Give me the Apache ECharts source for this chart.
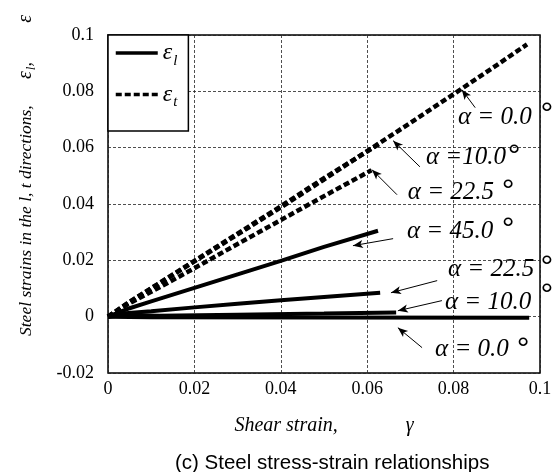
<!DOCTYPE html>
<html>
<head>
<meta charset="utf-8">
<script src="https://cdn.jsdelivr.net/npm/echarts@6/dist/echarts.min.js"></script>
<style>
  html, body { margin: 0; padding: 0; background: #fff; }
  #chart { width: 557px; height: 472px; }
</style>
</head>
<body>
<div id="chart"></div>
<script>
// Strain curves: [shear strain γ, steel strain]
const epsT_a00 = [[0,0],[0.005,0.0052],[0.01,0.0100],[0.02,0.0196],[0.03,0.0292],[0.04,0.0388],[0.05,0.0487],[0.06,0.0588],[0.07,0.0688],[0.08,0.0790],[0.09,0.0893],[0.097,0.0967]];
const epsT_a10 = [[0,0],[0.005,0.0053],[0.01,0.0101],[0.02,0.0198],[0.03,0.0295],[0.04,0.0392],[0.05,0.0492],[0.063,0.0615]];
const epsT_a225 = [[0,0],[0.005,0.0048],[0.01,0.0088],[0.02,0.0172],[0.03,0.0258],[0.04,0.0343],[0.05,0.0428],[0.061,0.0520]];
const epsL_a45 = [[0,0],[0.005,0.0030],[0.01,0.0054],[0.02,0.0102],[0.03,0.0150],[0.04,0.0198],[0.05,0.0248],[0.0625,0.0305]];
const epsL_a225 = [[0,0],[0.004,0.0012],[0.01,0.0019],[0.02,0.0033],[0.03,0.0046],[0.04,0.0058],[0.05,0.0070],[0.063,0.0085]];
const epsL_a10 = [[0,0],[0.004,0.0006],[0.012,0.0003],[0.03,0.0007],[0.05,0.0011],[0.0667,0.0015]];
const epsL_a00 = [[0,0],[0.01,-0.0002],[0.05,-0.0003],[0.0975,-0.0004]];

const xTicks = [0, 0.02, 0.04, 0.06, 0.08, 0.1];
const yTicks = [-0.02, 0, 0.02, 0.04, 0.06, 0.08, 0.1];

// Angle annotations: label text, label anchor, degree sign anchor, arrow tail, arrow head (data units)
const notes = [
  { text: 'α = 0.0',  at: [0.0810, 0.0706],  deg: [0.1016, 0.0714],  tail: [0.0850, 0.0742],  head: [0.0819, 0.0806] },
  { text: 'α =10.0',  at: [0.0736, 0.0564],  deg: [0.0940, 0.0565],  tail: [0.0722, 0.0532],  head: [0.0660, 0.0625] },
  { text: 'α = 22.5', at: [0.0694, 0.0440],  deg: [0.0926, 0.0441],  tail: [0.0669, 0.0433],  head: [0.0611, 0.0522] },
  { text: 'α = 45.0', at: [0.0692, 0.0302],  deg: [0.0926, 0.0306],  tail: [0.0660, 0.0277],  head: [0.0567, 0.0252] },
  { text: 'α = 22.5', at: [0.0787, 0.0167],  deg: [0.1016, 0.0171],  tail: [0.0762, 0.0128],  head: [0.0655, 0.0085] },
  { text: 'α = 10.0', at: [0.0780, 0.0050],  deg: [0.1016, 0.0071],  tail: [0.0773, 0.0057],  head: [0.0671, 0.0021] },
  { text: 'α = 0.0',  at: [0.0757, -0.0117], deg: [0.0961, -0.0120], tail: [0.0727, -0.0110], head: [0.0671, -0.0039] }
];

const NAME_L = 'εl';
const NAME_T = 'εt';
const serif = 'Liberation Serif';
const sans = 'Liberation Sans';

const solid = { color: '#000', width: 4, type: 'solid' };
const dashed = { color: '#000', width: 4.5, type: [6, 3] };

function curve(name, data, style) {
  return {
    name: name, type: 'line', data: data, showSymbol: false, symbol: 'none',
    lineStyle: style, itemStyle: { color: '#000' }, silent: true, animation: false, z: 3
  };
}

const tickFmt = list => v => {
  const t = list.find(k => Math.abs(k - v) < 1e-9);
  return t === undefined ? '' : '{t|' + t + '}';
};
const tickRich = { t: { fontFamily: serif, fontSize: 18, color: '#000' } };

const chart = echarts.init(document.getElementById('chart'), null, { renderer: 'canvas' });

const option = {
  backgroundColor: '#fff',
  animation: false,
  textStyle: { fontFamily: serif, fontSize: 18, color: '#000' },
  grid: { left: 108, right: 17, top: 35, bottom: 99, show: true, borderColor: '#000', borderWidth: 1.5, backgroundColor: 'transparent' },
  xAxis: {
    type: 'value', min: 0, max: 0.1, interval: 0.02,
    axisLine: { show: false }, axisTick: { show: false },
    splitLine: { show: true, lineStyle: { color: '#222', width: 0.8, type: [3, 2] } },
    axisLabel: { show: true, color: '#000', margin: 7, formatter: tickFmt(xTicks), rich: tickRich },
    name: '{a|Shear strain,}{b|γ}', nameLocation: 'middle', nameGap: 43,
    nameTextStyle: {
      color: '#000', fontFamily: serif, fontStyle: 'italic', fontSize: 20,
      rich: {
        a: { fontFamily: serif, fontStyle: 'italic', fontSize: 20, color: '#000' },
        b: { fontFamily: serif, fontStyle: 'italic', fontSize: 20, color: '#000', padding: [0, 0, 0, 68] }
      }
    }
  },
  yAxis: {
    type: 'value', min: -0.02, max: 0.1, interval: 0.02,
    axisLine: { show: false }, axisTick: { show: false },
    splitLine: { show: true, lineStyle: { color: '#222', width: 0.8, type: [3, 2] } },
    axisLabel: { show: true, color: '#000', margin: 14, formatter: tickFmt(yTicks), rich: tickRich }
  },
  legend: {
    show: true, orient: 'vertical', left: 108, top: 35,
    data: [NAME_L, NAME_T],
    itemWidth: 42, itemHeight: 14, itemGap: 14,
    padding: [6, 11, 21, 6],
    borderColor: '#000', borderWidth: 1.5, backgroundColor: '#fff',
    selectedMode: false,
    itemStyle: { opacity: 0 },
    lineStyle: { width: 3.5 },
    formatter: n => n === NAME_L ? '{e|ε}{s|l}' : '{e|ε}{s|t}',
    textStyle: {
      color: '#000',
      rich: {
        e: { fontFamily: serif, fontStyle: 'italic', fontSize: 24, color: '#000' },
        s: { fontFamily: serif, fontStyle: 'italic', fontSize: 15, color: '#000', padding: [16, 0, 0, 1] }
      }
    }
  },
  series: [
    curve(NAME_T, epsT_a00, dashed),
    curve(NAME_T, epsT_a10, dashed),
    curve(NAME_T, epsT_a225, dashed),
    curve(NAME_L, epsL_a45, solid),
    curve(NAME_L, epsL_a225, solid),
    curve(NAME_L, epsL_a10, solid),
    curve(NAME_L, epsL_a00, solid),
    {
      name: 'arrows', type: 'line', data: [], silent: true, z: 5,
      markLine: {
        silent: true, animation: false,
        symbol: ['none', 'arrow'], symbolSize: [6, 10],
        label: { show: false },
        lineStyle: { color: '#000', width: 1, type: 'solid' },
        data: notes.map(n => [{ coord: n.tail }, { coord: n.head }])
      }
    }
  ],
  title: {
    text: '(c) Steel stress-strain relationships',
    left: 170, top: 448,
    textStyle: { color: '#000', fontFamily: sans, fontWeight: 'normal', fontSize: 20.5 }
  }
};

chart.setOption(option);

// Annotation labels and the rotated y-axis title, placed through the chart's coordinate system
const graphics = [];
notes.forEach(n => {
  const p = chart.convertToPixel({ gridIndex: 0 }, n.at);
  const d = chart.convertToPixel({ gridIndex: 0 }, n.deg);
  graphics.push({
    type: 'text', x: p[0], y: p[1], z: 10, silent: true,
    style: { text: n.text, fill: '#000', font: 'italic 25px "' + serif + '"', textAlign: 'left', textVerticalAlign: 'middle' }
  });
  graphics.push({
    type: 'text', x: d[0], y: d[1], z: 10, silent: true,
    style: { text: '°', fill: '#000', font: '32px "' + sans + '"', textAlign: 'center', textVerticalAlign: 'middle' }
  });
});

graphics.push({
  type: 'text', x: 26, y: 336, rotation: Math.PI / 2, silent: true,
  style: {
    text: 'Steel strains in the l, t directions,      {e|ε}{s|l}{c|,}         {e|ε}',
    fill: '#000', font: 'italic 17.5px "' + serif + '"', textAlign: 'left', textVerticalAlign: 'middle',
    rich: {
      e: { fontFamily: serif, fontStyle: 'italic', fontSize: 20, fill: '#000' },
      s: { fontFamily: serif, fontStyle: 'italic', fontSize: 13, fill: '#000', padding: [12, 0, 0, 1] },
      c: { fontFamily: serif, fontStyle: 'italic', fontSize: 18, fill: '#000' }
    }
  }
});

chart.setOption({ graphic: graphics });
</script>
</body>
</html>
